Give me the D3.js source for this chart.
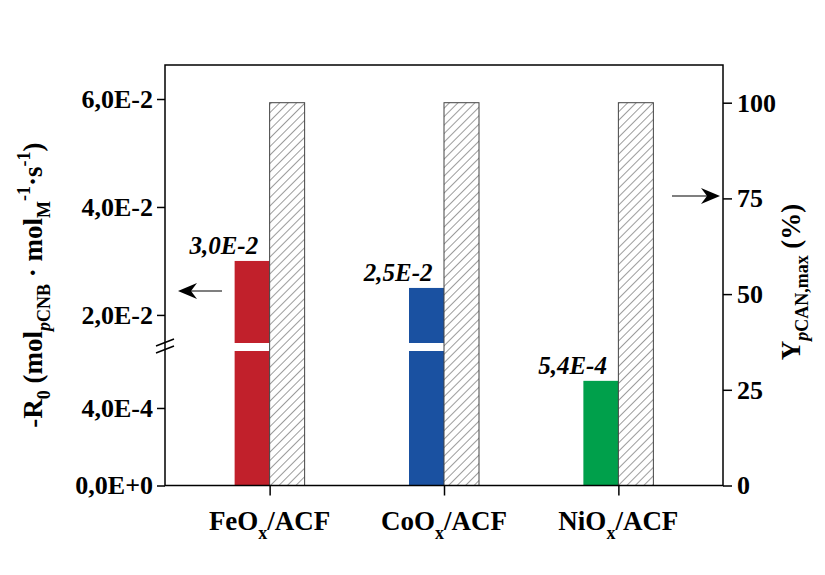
<!DOCTYPE html>
<html>
<head>
<meta charset="utf-8">
<script src="https://cdn.jsdelivr.net/npm/d3@7"></script>
<style>
  body { margin: 0; background: #fff; }
  svg text { font-family: "Liberation Serif", "Times New Roman", serif; font-weight: bold; }
</style>
</head>
<body>
<svg id="chart" width="825" height="575"></svg>
<script>
'use strict';

// data
var catalysts = ["FeO", "CoO", "NiO"];
var rate = [3.0e-2, 2.5e-2, 5.4e-4];
var rateLabels = ["3,0E-2", "2,5E-2", "5,4E-4"];
var yieldMax = [100, 100, 100];
var barColors = ["#c1202b", "#1a51a1", "#00a04b"];
var lowerTicks = [0, 4e-4];
var upperTicks = [2e-2, 4e-2, 6e-2];
var yieldTicks = [0, 25, 50, 75, 100];

var svg = d3.select("#chart");
var plotL = 165, plotR = 723, plotT = 65, plotB = 485.5;
var breakTop = 343, breakBot = 351;   // white gap of the broken axis

var x = d3.scaleLinear().domain([0.4, 3.6]).range([plotL, plotR]);
var yLow = d3.scaleLinear().domain([0, 6.94e-4]).range([plotB, breakBot]);
var yUp = d3.scaleLinear().domain([1.48e-2, 6.63e-2]).range([breakTop, plotT]);
var yR = d3.scaleLinear().domain([0, 100]).range([plotB, 102.7]);
var barW = 35;

var fmt = function(d) { return d.toExponential(1).replace(".", ",").toUpperCase(); };

// hatch pattern
var defs = svg.append("defs");
defs.append("pattern")
  .attr("id", "hatch")
  .attr("patternUnits", "userSpaceOnUse")
  .attr("width", 6).attr("height", 6)
  .attr("patternTransform", "rotate(45)")
  .append("line")
  .attr("x1", 0).attr("y1", 0).attr("x2", 0).attr("y2", 6)
  .attr("stroke", "#222").attr("stroke-width", 0.9);

// coloured bars, split at the axis break
var g = svg.append("g");
rate.forEach(function(v, i) {
  var cx = x(i + 1);
  var broken = v > yLow.domain()[1];
  var lowTop = broken ? breakBot : yLow(v);
  g.append("rect")
    .attr("x", cx - barW).attr("width", barW)
    .attr("y", lowTop).attr("height", plotB - lowTop)
    .attr("fill", barColors[i]);
  var labelY = lowTop;
  if (broken) {
    g.append("rect")
      .attr("x", cx - barW).attr("width", barW)
      .attr("y", yUp(v)).attr("height", breakTop - yUp(v))
      .attr("fill", barColors[i]);
    labelY = yUp(v);
  }
  svg.append("text")
    .attr("x", cx - barW / 2 + 6).attr("y", labelY - 7)
    .attr("text-anchor", "end")
    .style("font-style", "italic")
    .attr("font-size", "25px")
    .text(rateLabels[i]);
});

// hatched yield bars
g.selectAll(".yield")
  .data(yieldMax)
  .enter()
  .append("rect")
  .attr("x", function(d, i) { return x(i + 1); })
  .attr("width", barW)
  .attr("y", function(d) { return yR(d); })
  .attr("height", function(d) { return plotB - yR(d); })
  .attr("fill", "url(#hatch)")
  .attr("stroke", "#444")
  .attr("stroke-width", 1);

// frame
svg.append("rect")
  .attr("x", plotL).attr("y", plotT)
  .attr("width", plotR - plotL).attr("height", plotB - plotT)
  .attr("fill", "none").attr("stroke", "#000").attr("stroke-width", 1.5);

var styleAxis = function(sel) {
  sel.select(".domain").remove();
  sel.selectAll("line").attr("stroke-width", 1.5);
  sel.selectAll("text")
    .attr("font-size", "26px")
    .attr("fill", "#000")
    .style("font-family", "'Liberation Serif', 'Times New Roman', serif");
};

svg.append("g").attr("transform", "translate(" + plotL + ",0)")
  .call(d3.axisLeft(yLow).tickValues(lowerTicks).tickFormat(fmt).tickSize(8).tickPadding(4))
  .call(styleAxis);
svg.append("g").attr("transform", "translate(" + plotL + ",0)")
  .call(d3.axisLeft(yUp).tickValues(upperTicks).tickFormat(fmt).tickSize(8).tickPadding(4))
  .call(styleAxis);
svg.append("g").attr("transform", "translate(" + plotR + ",0)")
  .call(d3.axisRight(yR).tickValues(yieldTicks).tickSize(9).tickPadding(5))
  .call(styleAxis);
svg.append("g").attr("transform", "translate(0," + plotB + ")")
  .call(d3.axisBottom(x).tickValues([1, 2, 3]).tickFormat("").tickSize(10))
  .call(styleAxis);

// category labels with subscript x
catalysts.forEach(function(c, i) {
  var t = svg.append("text")
    .attr("x", x(i + 1)).attr("y", 530)
    .attr("text-anchor", "middle")
    .attr("font-size", "27px");
  t.append("tspan").text(c);
  t.append("tspan").attr("font-size", "18px").attr("dy", 9).text("x");
  t.append("tspan").attr("dy", -9).text("/ACF");
});

// axis break marks
[0, 7].forEach(function(off) {
  svg.append("line")
    .attr("x1", plotL - 9).attr("y1", 346 + off)
    .attr("x2", plotL + 9).attr("y2", 339 + off)
    .attr("stroke", "#000").attr("stroke-width", 1.5);
});

// arrows
var arrow = function(x1, x2, y) {
  var dir = x2 > x1 ? 1 : -1;
  svg.append("line")
    .attr("x1", x1).attr("y1", y).attr("x2", x2 - dir * 8).attr("y2", y)
    .attr("stroke", "#000").attr("stroke-width", 1.2);
  svg.append("path")
    .attr("d", "M" + x2 + "," + y +
      "L" + (x2 - dir * 19) + "," + (y - 8) +
      "L" + (x2 - dir * 13) + "," + y +
      "L" + (x2 - dir * 19) + "," + (y + 8) + "Z")
    .attr("fill", "#000");
};
arrow(222, 178, 291);
arrow(672, 720, 196);

// left axis title
var lt = svg.append("text")
  .attr("transform", "translate(42,285) rotate(-90)")
  .attr("text-anchor", "middle")
  .attr("font-size", "27px");
lt.append("tspan").text("-R");
lt.append("tspan").attr("font-size", "18px").attr("dy", 8).text("0");
lt.append("tspan").attr("dy", -8).text(" (mol");
lt.append("tspan").attr("font-size", "18px").attr("dy", 8).style("font-style", "italic").text("p");
lt.append("tspan").attr("font-size", "18px").text("CNB");
lt.append("tspan").attr("dy", -8).text(" \u00b7 mol");
lt.append("tspan").attr("font-size", "18px").attr("dy", 8).text("M");
lt.append("tspan").attr("font-size", "18px").attr("dy", -20).text("-1");
lt.append("tspan").attr("dy", 12).text("\u00b7s");
lt.append("tspan").attr("font-size", "18px").attr("dy", -12).text("-1");
lt.append("tspan").attr("dy", 12).text(")");

// right axis title
var rt = svg.append("text")
  .attr("transform", "translate(800,282) rotate(-90)")
  .attr("text-anchor", "middle")
  .attr("font-size", "27px");
rt.append("tspan").text("Y");
rt.append("tspan").attr("font-size", "18px").attr("dy", 8).style("font-style", "italic").text("p");
rt.append("tspan").attr("font-size", "18px").text("CAN,max");
rt.append("tspan").attr("dy", -8).text(" (%)");
</script>
</body>
</html>
